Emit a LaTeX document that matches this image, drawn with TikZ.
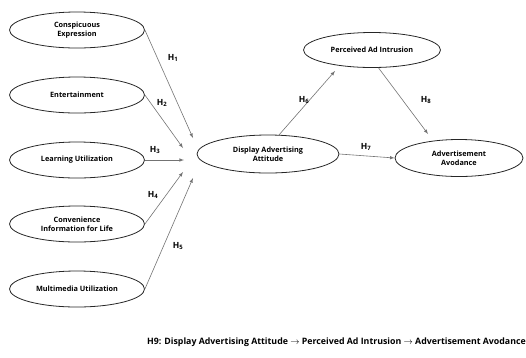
\documentclass[tikz,border=0pt]{standalone}
\usepackage{fontspec}
\setmainfont{Open Sans}
\usetikzlibrary{shapes.geometric}
\begin{document}
\begin{tikzpicture}[x=1pt, y=-1pt, font=\fontsize{7.3}{8.6}\selectfont\bfseries,
	var/.style={draw=black!85, line width=0.8pt, ellipse, minimum width=135pt, minimum height=36pt, inner sep=0pt, align=center},
	path/.style={draw=black!55, line width=0.6pt, -latex},
	hyp/.style={font=\fontsize{8.5}{9}\selectfont\bfseries}]
	\useasboundingbox (0,0) rectangle (526,357);
	\node[var] (ce) at (77,30) {Conspicuous\\Expression};
	\node[var] (ent) at (77,95) {Entertainment};
	\node[var] (lu) at (77,160) {Learning Utilization};
	\node[var] (cil) at (77,224) {Convenience\\Information for Life};
	\node[var] (mu) at (77,289) {Multimedia Utilization};
	\node[var, minimum width=142pt, minimum height=38pt] (daa) at (268,154) {Display Advertising\\Attitude};
	\node[var, minimum width=137pt, minimum height=35pt] (pai) at (372,50) {Perceived Ad Intrusion};
	\node[var, minimum width=128pt, minimum height=37pt] (aa) at (459,158) {Advertisement\\Avodance};
	
	\coordinate (t1) at (193,138);
	\coordinate (t2) at (183,148);
	\coordinate (t3) at (184,160);
	\coordinate (t4) at (183,172);
	\coordinate (t5) at (193,178);
	\draw[path] (ce.east) -- (t1);
	\draw[path] (ent.east) -- (t2);
	\draw[path] (lu.east) -- (t3);
	\draw[path] (cil.east) -- (t4);
	\draw[path] (mu.east) -- (t5);
	\coordinate (t6) at (335,71);
	\coordinate (t8) at (428,134);
	\draw[path] (daa.60) -- (t6);
	\draw[path] (daa.east) -- (aa.west);
	\draw[path] (pai.-70) -- (t8);
	
	\node[hyp] (h1) at (173,58) {H\textsubscript{1}};
	\node[hyp] (h2) at (162,103) {H\textsubscript{2}};
	\node[hyp] (h3) at (155,150) {H\textsubscript{3}};
	\node[hyp] (h4) at (153,195) {H\textsubscript{4}};
	\node[hyp] (h5) at (178,246) {H\textsubscript{5}};
	\node[hyp] (h6) at (304,100) {H\textsubscript{6}};
	\node[hyp] (h7) at (366,147) {H\textsubscript{7}};
	\node[hyp] (h8) at (426,100) {H\textsubscript{8}};
	\node[font=\fontsize{8.8}{9.5}\selectfont\bfseries, anchor=east, inner sep=0pt] (h9) at (526,342) {H9: Display Advertising Attitude \(\rightarrow\) Perceived Ad Intrusion \(\rightarrow\) Advertisement Avodance};
\end{tikzpicture}
\end{document}
